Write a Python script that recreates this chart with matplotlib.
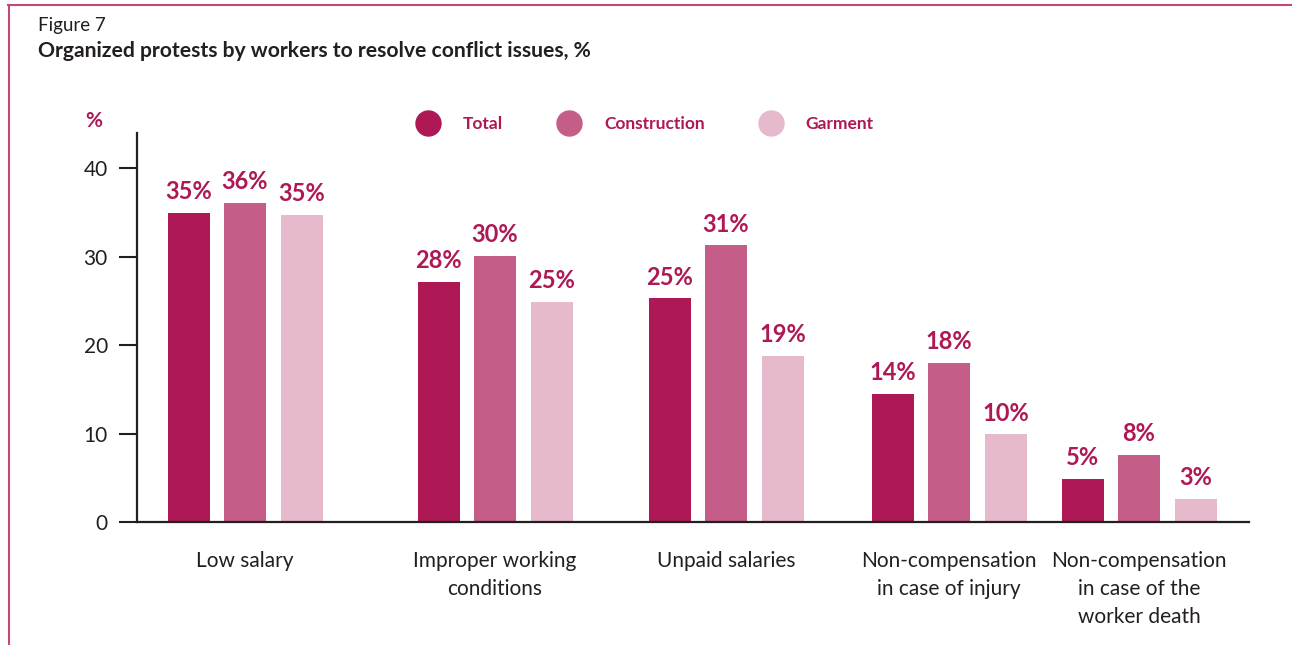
import matplotlib
matplotlib.use("Agg")
import matplotlib.pyplot as plt
from matplotlib.lines import Line2D

# data
categories = ["Low salary", "Improper working\nconditions", "Unpaid salaries",
              "Non-compensation\nin case of injury",
              "Non-compensation\nin case of the\nworker death"]
series = ["Total", "Construction", "Garment"]
total = [35.0, 27.2, 25.3, 14.5, 4.9]
construction = [36.1, 30.1, 31.3, 18.0, 7.6]
garment = [34.7, 24.9, 18.8, 9.9, 2.6]
total_labels = ["35%", "28%", "25%", "14%", "5%"]
construction_labels = ["36%", "30%", "31%", "18%", "8%"]
garment_labels = ["35%", "25%", "19%", "10%", "3%"]
yticks = [0, 10, 20, 30, 40]

colors = ["#ad1855", "#c55d89", "#e6b9cc"]
accent = "#ad1855"
frame_col = "#c4467a"
dark = "#231f20"

plt.rcParams['font.family'] = ['Lato', 'DejaVu Sans']

W, H = 1292, 645
fig = plt.figure(figsize=(W / 100, H / 100), dpi=100)
ax = fig.add_axes([137 / W, 1 - 522 / H, (1249 - 137) / W, (522 - 133) / H])

# group centres and bar layout, in the axis' own units
group_x = [245, 495, 726, 949, 1139]
step, width = 56.5, 42

for k, (vals, labs) in enumerate(zip([total, construction, garment],
                                     [total_labels, construction_labels, garment_labels])):
    xs = [g + (k - 1) * step for g in group_x]
    bars = ax.bar(xs, vals, width=width, color=colors[k], label=series[k], zorder=2)
    for b, lab in zip(bars, labs):
        ax.annotate(lab, (b.get_x() + b.get_width() / 2, b.get_height()),
                    xytext=(0, 7), textcoords='offset points', ha='center', va='bottom',
                    fontsize=17, fontweight='bold', color=accent)

ax.set_xlim(137, 1249)
ax.set_ylim(0, 44)
ax.set_yticks(yticks)
ax.set_xticks(group_x)
ax.set_xticklabels(categories, fontsize=15, color=dark, linespacing=1.5)
ax.tick_params(axis='x', length=0, pad=21)
ax.tick_params(axis='y', length=13, width=1.5, color=dark, labelsize=15,
               labelcolor=dark, pad=8, direction='out')
for s in ['top', 'right']:
    ax.spines[s].set_visible(False)
for s in ['left', 'bottom']:
    ax.spines[s].set_linewidth(1.6)
    ax.spines[s].set_color(dark)

# "%" unit above the axis
fig.text(94 / W, 1 - 121 / H, "%", ha='center', va='center', fontsize=15,
         fontweight='bold', color=accent)

handles = [Line2D([], [], ls='', marker='o', markersize=18, color=c) for c in colors]
leg = fig.legend(handles, series, loc='center', bbox_to_anchor=(644 / W, 1 - 124 / H),
                 ncol=3, frameon=False, handlelength=1.6, handletextpad=1.2,
                 columnspacing=3.0, prop={'size': 12.5, 'weight': 'bold'})
for t in leg.get_texts():
    t.set_color(accent)

fig.text(38 / W, 1 - 31 / H, "Figure 7", fontsize=13.5, color=dark, va='baseline')
fig.text(38 / W, 1 - 57 / H, "Organized protests by workers to resolve conflict issues, %",
         fontsize=15.2, fontweight='bold', color=dark, va='baseline')

# pink frame, top and left
fig.add_artist(Line2D([8 / W, 1], [1 - 5 / H, 1 - 5 / H], transform=fig.transFigure,
                      color=frame_col, lw=1.5))
fig.add_artist(Line2D([9 / W, 9 / W], [0, 1 - 5 / H], transform=fig.transFigure,
                      color=frame_col, lw=1.5))

fig.savefig("out.png", dpi=100)
